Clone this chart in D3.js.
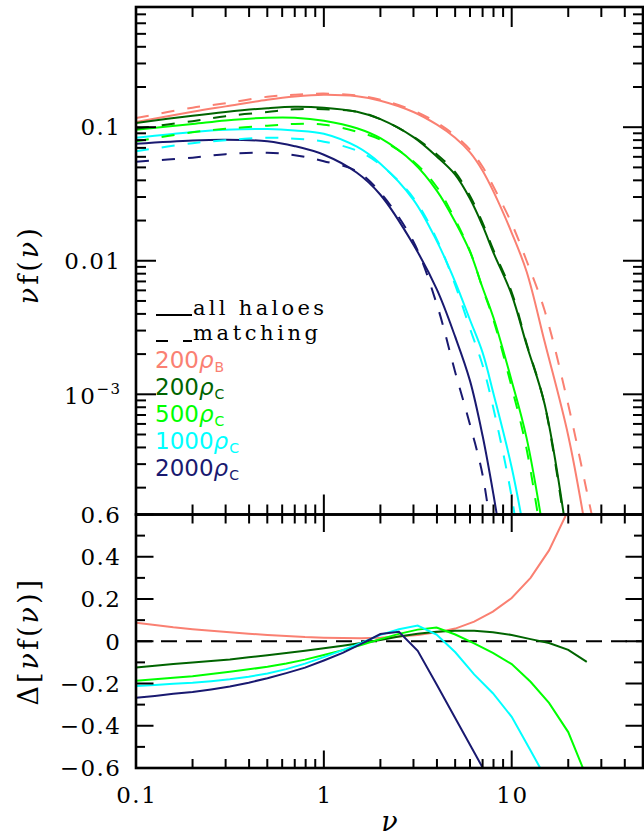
<!DOCTYPE html>
<html><head><meta charset="utf-8">
<script src="https://cdn.jsdelivr.net/npm/d3@7"></script>
<style>body{margin:0;background:#fff;} svg{display:block;}</style>
</head><body>
<svg id="c" width="644" height="837"></svg>
<script>
// ---------- data (top panel: nu f(nu)) ----------
const nuTop = [0.1,0.2,0.3,0.5,0.7,1,1.5,2,3,4,5,6,7,8,10,12,15,20,25,30];
const salmonAll   = [0.1094,0.1306,0.1432,0.1607,0.1701,0.1752,0.1707,0.1579,0.1300,0.1044,0.0834,0.0647,0.0472,0.0329,0.0162,0.00830,0.00245,4.9e-4,9.0e-5,null];
const salmonMatch = [0.1170,0.1400,0.1510,0.1690,0.1750,0.1785,0.1732,0.1607,0.1330,0.1080,0.0864,0.0680,0.0505,0.0358,0.0190,0.01000,0.00420,8.35e-4,1.93e-4,5.7e-5];
const dgreenAll   = [0.1075,0.1219,0.1300,0.1388,0.1424,0.1400,0.1307,0.1148,0.0842,0.0601,0.0441,0.0291,0.0183,0.01148,0.00556,0.00235,8.34e-4,7.4e-5,null,null];
const dgreenMatch = [0.0975,0.1110,0.1210,0.1300,0.1360,0.1364,0.1307,0.1150,0.0850,0.0625,0.0460,0.0305,0.0192,0.0120,0.0058,0.00240,8.3e-4,6.8e-5,null,null];
const limeAll     = [0.0958,0.1057,0.1124,0.1178,0.1178,0.1119,0.0983,0.0827,0.0542,0.0334,0.0196,0.01167,0.00628,0.00374,0.00126,4.72e-4,8.1e-5,null,null,null];
const limeMatch   = [0.0783,0.0917,0.0974,0.1026,0.1057,0.1044,0.0925,0.0806,0.0553,0.0355,0.0203,0.0118,0.0062,0.0036,0.00113,3.9e-4,5.8e-5,null,null,null];
const cyanAll     = [0.0834,0.0921,0.0958,0.0969,0.0946,0.0894,0.0714,0.0533,0.0286,0.01396,0.00696,0.0036,0.00205,0.00101,2.83e-4,7.4e-5,null,null,null,null];
const cyanMatch   = [0.0661,0.0759,0.0799,0.0834,0.0820,0.0779,0.0667,0.0524,0.0295,0.0144,0.0066,0.0031,0.00165,7.8e-4,1.7e-4,3.0e-5,null,null,null,null];
const navyAll     = [0.0752,0.0796,0.0806,0.0785,0.0721,0.0622,0.0456,0.0312,0.01318,0.00607,0.0027,0.00126,4.89e-4,1.77e-4,2.6e-5,null,null,null,null,null];
const navyMatch   = [0.0552,0.0591,0.0628,0.0644,0.0617,0.0556,0.0468,0.0323,0.01387,0.00468,0.00147,5.91e-4,2.49e-4,7.0e-5,null,null,null,null,null,null];

// ---------- data (bottom panel: Delta[nu f(nu)]) ----------
const nuBot = [0.1,0.126,0.158,0.2,0.251,0.316,0.398,0.501,0.631,0.794,1,1.26,1.58,2,2.51,3.16,3.98,5.01,6.31,7.94,10,12.6,15.8,20,25.1];
const salmonDelta = [0.088,0.077,0.066,0.057,0.050,0.043,0.036,0.030,0.025,0.020,0.017,0.015,0.014,0.017,0.022,0.029,0.042,0.060,0.093,0.140,0.205,0.300,0.430,0.620,null];
const dgreenDelta = [-0.124,-0.116,-0.108,-0.101,-0.093,-0.086,-0.076,-0.066,-0.056,-0.045,-0.033,-0.021,-0.008,0.006,0.022,0.035,0.045,0.050,0.050,0.043,0.030,0.010,-0.008,-0.041,-0.098];
const limeDelta   = [-0.187,-0.180,-0.173,-0.166,-0.155,-0.144,-0.133,-0.121,-0.105,-0.087,-0.065,-0.042,-0.018,0.010,0.035,0.055,0.065,0.032,-0.010,-0.055,-0.108,-0.192,-0.292,-0.430,-0.645];
const cyanDelta   = [-0.212,-0.207,-0.201,-0.196,-0.189,-0.180,-0.168,-0.153,-0.132,-0.106,-0.075,-0.042,-0.008,0.030,0.057,0.074,0.032,-0.052,-0.157,-0.246,-0.358,-0.517,-0.676,null,null];
const navyDelta   = [-0.268,-0.259,-0.249,-0.240,-0.228,-0.214,-0.196,-0.175,-0.151,-0.125,-0.091,-0.055,-0.012,0.034,0.045,-0.045,-0.203,-0.364,-0.525,-0.687,null,null,null,null,null];

// ---------- legend / labels ----------
const seriesNames = ["200", "200", "500", "1000", "2000"];
const seriesSubs  = ["B", "C", "C", "C", "C"];
const colors = ["#FA8072", "#006400", "#00FF00", "#00FFFF", "#191970"];
const xTickLabels = ["0.1", "1", "10"];
const yTopTickLabels = ["0.1", "0.01", "10"];
const yBotTickLabels = ["0.6","0.4","0.2","0","−0.2","−0.4","−0.6"];

const topAll   = [salmonAll, dgreenAll, limeAll, cyanAll, navyAll];
const topMatch = [salmonMatch, dgreenMatch, limeMatch, cyanMatch, navyMatch];
const botDelta = [salmonDelta, dgreenDelta, limeDelta, cyanDelta, navyDelta];

// ---------- layout ----------
const L = 136, R = 643, T = 7, M = 514.5, B = 768;
const svg = d3.select("#c");
const x = d3.scaleLog().domain([0.1, 50]).range([L, R]);
const yT = d3.scaleLog().domain([1.2589e-4, 0.7943]).range([M, T]);
const yB = d3.scaleLinear().domain([-0.6, 0.6]).range([B, M]);

const defs = svg.append("defs");
defs.append("clipPath").attr("id","clipT").append("rect").attr("x",L).attr("y",T).attr("width",R-L).attr("height",M-T);
defs.append("clipPath").attr("id","clipB").append("rect").attr("x",L).attr("y",M).attr("width",R-L).attr("height",B-M);

// ---------- curves ----------
const gT = svg.append("g").attr("clip-path","url(#clipT)");
const lineTop = (arr) => d3.line()
  .defined((d,i)=>arr[i]!=null)
  .x((d,i)=>x(nuTop[i])).y((d,i)=>yT(arr[i]))
  .curve(d3.curveCatmullRom.alpha(0.5))(nuTop);
topAll.forEach((arr,k)=>{
  gT.append("path").attr("d",lineTop(arr)).attr("fill","none")
    .attr("stroke",colors[k]).attr("stroke-width",2);
});
topMatch.forEach((arr,k)=>{
  gT.append("path").attr("d",lineTop(arr)).attr("fill","none")
    .attr("stroke",colors[k]).attr("stroke-width",2).attr("stroke-dasharray","13,13");
});

const gB = svg.append("g").attr("clip-path","url(#clipB)");
gB.append("line").attr("x1",L).attr("x2",R).attr("y1",yB(0)).attr("y2",yB(0))
  .attr("stroke","#000").attr("stroke-width",2).attr("stroke-dasharray","16,9");
const lineBot = (arr) => d3.line()
  .defined((d,i)=>arr[i]!=null)
  .x((d,i)=>x(nuBot[i])).y((d,i)=>yB(arr[i]))(nuBot);
botDelta.forEach((arr,k)=>{
  gB.append("path").attr("d",lineBot(arr)).attr("fill","none")
    .attr("stroke",colors[k]).attr("stroke-width",2);
});

// ---------- frames & ticks ----------
const axG = svg.append("g").attr("stroke","#000").attr("fill","none");
axG.append("rect").attr("x",L).attr("y",T).attr("width",R-L).attr("height",M-T).attr("stroke-width",2.6);
axG.append("rect").attr("x",L).attr("y",M).attr("width",R-L).attr("height",B-M).attr("stroke-width",2.6);

const isMajorLog = v => Math.abs(Math.log10(v) - Math.round(Math.log10(v))) < 1e-6;
x.ticks().forEach(v=>{
  const px = x(v), maj = isMajorLog(v);
  const lt = maj?20:10, lb = maj?17.5:9;
  axG.append("line").attr("x1",px).attr("x2",px).attr("y1",T).attr("y2",T+lt).attr("stroke-width",2);
  axG.append("line").attr("x1",px).attr("x2",px).attr("y1",M).attr("y2",M-lt).attr("stroke-width",2);
  axG.append("line").attr("x1",px).attr("x2",px).attr("y1",M).attr("y2",M+lb).attr("stroke-width",2);
  axG.append("line").attr("x1",px).attr("x2",px).attr("y1",B).attr("y2",B-lb).attr("stroke-width",2);
});
yT.ticks().forEach(v=>{
  const py = yT(v), len = isMajorLog(v)?20:10;
  axG.append("line").attr("x1",L).attr("x2",L+len).attr("y1",py).attr("y2",py).attr("stroke-width",2);
  axG.append("line").attr("x1",R).attr("x2",R-len).attr("y1",py).attr("y2",py).attr("stroke-width",2);
});
d3.range(-6,7).forEach(i=>{
  const v = i/10, py = yB(v), len = (i%2===0)?17.5:9;
  axG.append("line").attr("x1",L).attr("x2",L+len).attr("y1",py).attr("y2",py).attr("stroke-width",2);
  axG.append("line").attr("x1",R).attr("x2",R-len).attr("y1",py).attr("y2",py).attr("stroke-width",2);
});

// ---------- tick labels ----------
const serif = "'DejaVu Serif', serif";
const fs = 23, ls = 1.5;
const lab = svg.append("g").attr("font-family",serif).attr("font-size",fs).attr("fill","#000");
[0.1,0.01].forEach((v,i)=>{
  lab.append("text").attr("x",120+ls).attr("y",yT(v)+fs*0.36).attr("text-anchor","end")
    .attr("letter-spacing",ls).text(yTopTickLabels[i]);
});
const t3 = lab.append("text").attr("x",120+ls).attr("y",yT(0.001)+fs*0.40).attr("text-anchor","end").attr("letter-spacing",ls);
t3.append("tspan").text(yTopTickLabels[2]);
t3.append("tspan").attr("font-size",15).attr("dy",-10).text("−3");
[0.6,0.4,0.2,0,-0.2,-0.4,-0.6].forEach((v,i)=>{
  lab.append("text").attr("x",120+ls).attr("y",yB(v)+fs*0.36).attr("text-anchor","end")
    .attr("letter-spacing",ls).text(yBotTickLabels[i]);
});
[0.1,1,10].forEach((v,i)=>{
  lab.append("text").attr("x",x(v)+ls/2).attr("y",803).attr("text-anchor","middle")
    .attr("letter-spacing",ls).text(xTickLabels[i]);
});

// ---------- axis titles ----------
const tfs = 27;
svg.append("text").attr("transform",`translate(38,${(T+M)/2+4}) rotate(-90)`)
  .attr("text-anchor","middle").attr("font-family",serif).attr("font-size",tfs).attr("letter-spacing",3)
  .html('<tspan font-style="italic">ν</tspan>f(<tspan font-style="italic">ν</tspan>)');
svg.append("text").attr("transform",`translate(38,${(M+B)/2}) rotate(-90)`)
  .attr("text-anchor","middle").attr("font-family",serif).attr("font-size",tfs).attr("letter-spacing",3)
  .html('Δ[<tspan font-style="italic">ν</tspan>f(<tspan font-style="italic">ν</tspan>)]');
svg.append("text").attr("x",(L+R)/2).attr("y",831).attr("text-anchor","middle")
  .attr("font-family",serif).attr("font-size",tfs).attr("font-style","italic").text("ν");

// ---------- legend ----------
const lg = svg.append("g");
lg.append("line").attr("x1",156).attr("x2",192).attr("y1",315).attr("y2",315).attr("stroke","#000").attr("stroke-width",2);
lg.append("line").attr("x1",156).attr("x2",192).attr("y1",341).attr("y2",341).attr("stroke","#000").attr("stroke-width",2).attr("stroke-dasharray","12,15");
lg.append("text").attr("x",193).attr("y",315).attr("font-family",serif).attr("font-size",21).attr("letter-spacing",3.3).text("all haloes");
lg.append("text").attr("x",193).attr("y",340).attr("font-family",serif).attr("font-size",21).attr("letter-spacing",3.6).text("matching");
seriesNames.forEach((nm,k)=>{
  const base = 368 + k*27;
  const t = lg.append("text").attr("x",155).attr("y",base).attr("fill",colors[k])
    .attr("font-family","'DejaVu Sans', sans-serif").attr("font-size",23);
  t.append("tspan").text(nm);
  t.append("tspan").attr("font-style","italic").text("ρ");
  const w = t.node().getComputedTextLength();
  lg.append("text").attr("x",155+w+1).attr("y",base+4).attr("fill",colors[k])
    .attr("font-family","'DejaVu Sans', sans-serif").attr("font-size",14).text(seriesSubs[k]);
});
</script>
</body></html>
